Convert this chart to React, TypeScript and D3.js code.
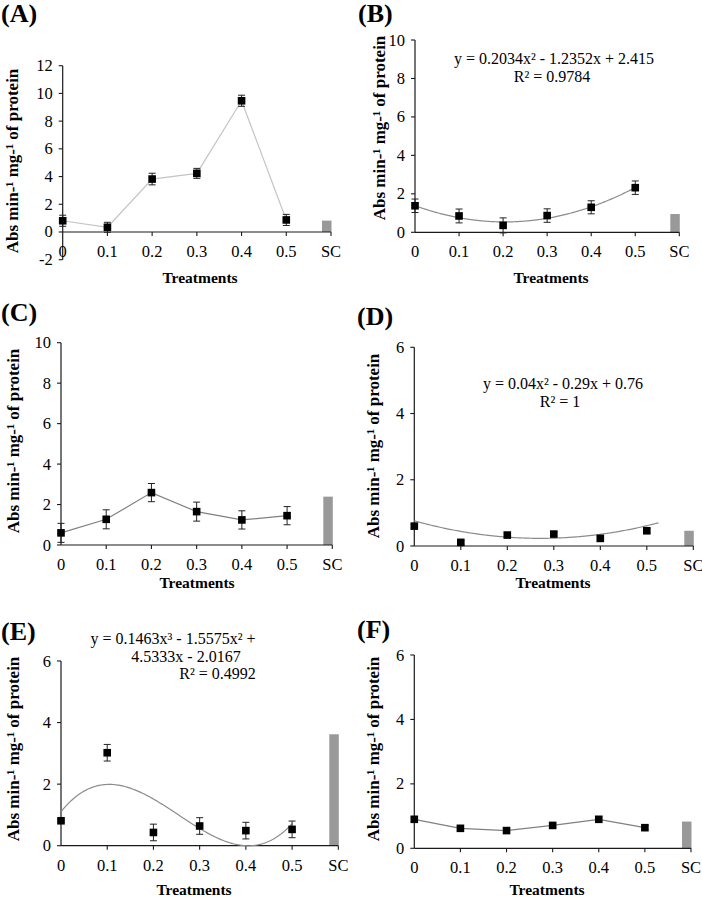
import React from 'react';
import * as d3 from 'd3';

// ---------- data ----------
const categories = ['0', '0.1', '0.2', '0.3', '0.4', '0.5', 'SC'];

const meansA = [0.81, 0.34, 3.82, 4.23, 9.47, 0.87];
const errA = [0.4, 0.36, 0.42, 0.36, 0.4, 0.4];
const scA = 0.82;
const ticksA = [-2, 0, 2, 4, 6, 8, 10, 12];

const meansB = [1.38, 0.85, 0.36, 0.87, 1.3, 2.32];
const errB = [0.35, 0.36, 0.39, 0.35, 0.34, 0.35];
const scB = 0.95;
const ticksB = [0, 2, 4, 6, 8, 10];
const fitB = [2.415, -1.2352, 0.2034]; // in x = index + 1
const eqB = ['y = 0.2034x² - 1.2352x + 2.415', 'R² = 0.9784'];

const meansC = [0.6, 1.27, 2.59, 1.65, 1.24, 1.45];
const errC = [0.47, 0.47, 0.45, 0.47, 0.45, 0.45];
const scC = 2.39;
const ticksC = [0, 2, 4, 6, 8, 10];

const meansD = [0.6, 0.11, 0.33, 0.36, 0.23, 0.46];
const errD = [0.06, 0.06, 0.06, 0.06, 0.06, 0.06];
const scD = 0.46;
const ticksD = [0, 2, 4, 6];
const fitD = [0.76, -0.391, 0.0723]; // drawn curve, in x = index
const eqD = ['y = 0.04x² - 0.29x + 0.76', 'R² = 1'];

const meansE = [0.81, 3.02, 0.43, 0.64, 0.49, 0.53];
const errE = [0.04, 0.27, 0.27, 0.27, 0.27, 0.27];
const scE = 3.62;
const ticksE = [0, 2, 4, 6];
const fitE = [-2.0167, 4.5333, -1.5575, 0.1463]; // in x = index + 1
const eqE = ['y = 0.1463x³ - 1.5575x² +', '4.5333x - 2.0167', 'R² = 0.4992'];

const meansF = [0.9, 0.62, 0.55, 0.71, 0.9, 0.64];
const errF = [0.07, 0.07, 0.07, 0.07, 0.07, 0.07];
const scF = 0.83;
const ticksF = [0, 2, 4, 6];

// ---------- layout ----------
type Panel = {
  title: string;
  means: number[];
  errs: number[];
  sc: number;
  ticks: number[];
  fit?: { coeffs: number[]; shift: number; t0: number; t1: number };
  eq?: string[];
  eqPos?: [number, number][];
  lineColor: string;
  ax: number; sx: number; yr: [number, number];
  titlePos: [number, number];
  ylab: [number, number];
  xlab: [number, number];
};

const panels: Panel[] = [
  { title: '(A)', means: meansA, errs: errA, sc: scA, ticks: ticksA, lineColor: '#c4c4c4',
    ax: 62.7, sx: 331, yr: [259.7, 65.7], titlePos: [1, 22], ylab: [18, 161], xlab: [200, 283] },
  { title: '(B)', means: meansB, errs: errB, sc: scB, ticks: ticksB, lineColor: '#8c8c8c',
    fit: { coeffs: fitB, shift: 1, t0: 0, t1: 5 }, eq: eqB, eqPos: [[554, 64], [552, 81.5]],
    ax: 415, sx: 679.3, yr: [232.3, 40], titlePos: [358, 22], ylab: [385, 128], xlab: [551, 283] },
  { title: '(C)', means: meansC, errs: errC, sc: scC, ticks: ticksC, lineColor: '#808080',
    ax: 61, sx: 332.3, yr: [545, 342.7], titlePos: [1, 321], ylab: [19, 441], xlab: [197, 588] },
  { title: '(D)', means: meansD, errs: errD, sc: scD, ticks: ticksD, lineColor: '#8c8c8c',
    fit: { coeffs: fitD, shift: 0, t0: 0, t1: 5.25 }, eq: eqD, eqPos: [[563, 389], [560, 407]],
    ax: 414.3, sx: 693.3, yr: [546, 347.3], titlePos: [357, 325], ylab: [379, 446], xlab: [553, 588] },
  { title: '(E)', means: meansE, errs: errE, sc: scE, ticks: ticksE, lineColor: '#8c8c8c',
    fit: { coeffs: fitE, shift: 1, t0: 0, t1: 5 }, eq: eqE, eqPos: [[173, 644], [186, 662], [217.5, 679]],
    ax: 61, sx: 338.3, yr: [845.7, 661], titlePos: [1, 640], ylab: [19, 749], xlab: [194, 895] },
  { title: '(F)', means: meansF, errs: errF, sc: scF, ticks: ticksF, lineColor: '#808080',
    ax: 414.3, sx: 691, yr: [848.3, 655], titlePos: [357, 638], ylab: [379, 749], xlab: [547, 895] },
];

const FONT = 'Liberation Serif';
const AXIS = '#1a1a1a';

function PanelView({ p }: { p: Panel }) {
  const x = d3.scaleLinear().domain([0, categories.length - 1]).range([p.ax, p.sx]);
  const y = d3.scaleLinear().domain([p.ticks[0], p.ticks[p.ticks.length - 1]]).range(p.yr);
  const y0 = y(0);

  let path = '';
  if (p.fit) {
    const f = p.fit;
    const ts = d3.range(0, 201).map((i) => f.t0 + ((f.t1 - f.t0) * i) / 200);
    const val = (t: number) => {
      const xx = t + f.shift;
      return f.coeffs.reduce((s, c, k) => s + c * Math.pow(xx, k), 0);
    };
    path = d3.line<number>().x((t) => x(t)).y((t) => y(val(t)))(ts) || '';
  } else {
    path = d3.line<number>().x((_, i) => x(i)).y((v) => y(v))(p.means) || '';
  }

  const barW = 9.5;
  const barRight = x(categories.length - 1) + 0.5;

  return (
    <g>
      <text x={p.titlePos[0]} y={p.titlePos[1]} fontFamily={FONT} fontWeight="bold" fontSize={26}>
        {p.title}
      </text>
      <text
        transform={`translate(${p.ylab[0]},${p.ylab[1]}) rotate(-90)`}
        textAnchor="middle"
        fontFamily={FONT}
        fontWeight="bold"
        fontSize={17}
      >
        Abs min-¹ mg-¹ of protein
      </text>
      {/* SC bar */}
      <rect x={barRight - barW} y={y(p.sc)} width={barW} height={y0 - y(p.sc)} fill="#999999" />
      {/* y axis */}
      <line x1={p.ax} x2={p.ax} y1={p.yr[0]} y2={p.yr[1]} stroke={AXIS} strokeWidth={1.2} />
      {p.ticks.map((t) => (
        <g key={t}>
          <line x1={p.ax - 4} x2={p.ax} y1={y(t)} y2={y(t)} stroke={AXIS} strokeWidth={1.1} />
          <text x={p.ax - 10} y={y(t) + 5.5} textAnchor="end" fontFamily={FONT} fontSize={16.5}>
            {t}
          </text>
        </g>
      ))}
      {/* x axis */}
      <line x1={p.ax} x2={p.sx} y1={y0} y2={y0} stroke={AXIS} strokeWidth={1.2} />
      {categories.map((c, i) => (
        <g key={c}>
          {i > 0 && <line x1={x(i)} x2={x(i)} y1={y0} y2={y0 + 4} stroke={AXIS} strokeWidth={1.1} />}
          <text x={x(i)} y={y0 + 25} textAnchor="middle" fontFamily={FONT} fontSize={16.5}>
            {c}
          </text>
        </g>
      ))}
      <text x={p.xlab[0]} y={p.xlab[1]} textAnchor="middle" fontFamily={FONT} fontWeight="bold" fontSize={15.5}>
        Treatments
      </text>
      {/* trend / connecting line */}
      <path d={path} fill="none" stroke={p.lineColor} strokeWidth={1.2} />
      {/* error bars and markers */}
      {p.means.map((m, i) => {
        const cx = x(i);
        const top = y(m + p.errs[i]);
        const bot = y(m - p.errs[i]);
        return (
          <g key={i}>
            <line x1={cx} x2={cx} y1={top} y2={bot} stroke="#222" strokeWidth={1} />
            <line x1={cx - 3.5} x2={cx + 3.5} y1={top} y2={top} stroke="#222" strokeWidth={1} />
            <line x1={cx - 3.5} x2={cx + 3.5} y1={bot} y2={bot} stroke="#222" strokeWidth={1} />
            <rect x={cx - 3.8} y={y(m) - 3.8} width={7.6} height={7.6} fill="#000" />
          </g>
        );
      })}
      {p.eq &&
        p.eq.map((line, k) => (
          <text
            key={k}
            x={p.eqPos![k][0]}
            y={p.eqPos![k][1]}
            textAnchor="middle"
            fontFamily={FONT}
            fontSize={16}
          >
            {line}
          </text>
        ))}
    </g>
  );
}

export default function App() {
  return (
    <svg
      width={702}
      height={897}
      viewBox="0 0 702 897"
      style={{ position: 'absolute', left: 0, top: 0, background: '#fff' }}
    >
      <rect width={702} height={897} fill="#fff" />
      {panels.map((p) => (
        <PanelView key={p.title} p={p} />
      ))}
    </svg>
  );
}
